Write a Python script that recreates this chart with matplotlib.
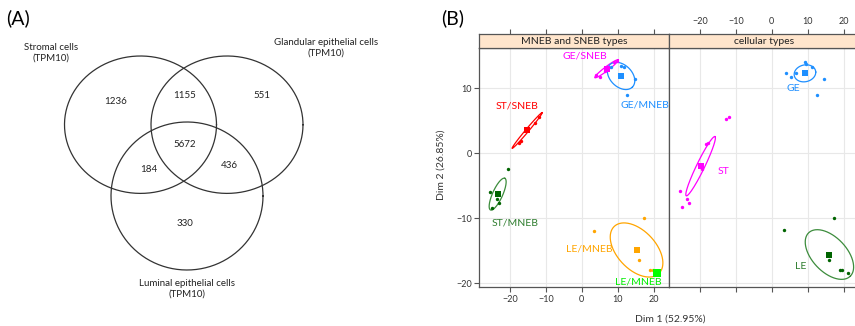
import matplotlib
matplotlib.use("Agg")
import matplotlib.pyplot as plt
import numpy as np

plt.rcParams["font.family"] = ["Lato", "DejaVu Sans"]

W, H = 855, 326

# ── panel A: Venn counts ──────────────────────────────────────────────────────
venn_sets = ["Stromal cells\n(TPM10)", "Glandular epithelial cells\n(TPM10)",
             "Luminal epithelial cells\n(TPM10)"]
venn_regions = ["ST", "ST&GE", "GE", "ALL", "ST&LE", "GE&LE", "LE"]
venn_counts = [1236, 1155, 551, 5672, 184, 436, 330]

# ── panel B: PCA coordinates (Dim 1, Dim 2) ───────────────────────────────────
xlim = (-28.5, 24.3)
ylim = (-20.6, 16.2)
ticks_x = [-20, -10, 0, 10, 20]
ticks_y = [-20, -10, 0, 10]

# left panel: MNEB and SNEB types
ge_sneb_x = [3.8, 5.0, 6.3, 8.8, 9.9]
ge_sneb_y = [12.1, 11.8, 12.7, 14.0, 14.2]
ge_mneb_x = [8.2, 11.0, 11.6, 14.8, 12.6]
ge_mneb_y = [13.3, 13.5, 13.2, 11.4, 9.0]
st_sneb_x = [-17.4, -16.8, -13.1, -12.0]
st_sneb_y = [1.5, 1.9, 4.7, 5.5]
st_mneb_x = [-20.5, -25.4, -23.5, -23.1, -24.9]
st_mneb_y = [-2.5, -5.9, -7.1, -7.6, -8.5]
le_mneb_x = [3.5, 17.4, 16.0, 18.9, 19.7]
le_mneb_y = [-11.95, -10.05, -16.5, -18.0, -17.95]

left_groups = {
    "GE/SNEB": dict(x=ge_sneb_x, y=ge_sneb_y, c=(6.85, 13.0), col="#ff00ff",
                    u=(3.25, 1.37), v=(0.34, -0.25), lab=(0.8, 15.0)),
    "GE/MNEB": dict(x=ge_mneb_x, y=ge_mneb_y, c=(10.9, 11.9), col="#1e8fff",
                    u=(3.14, -1.72), v=(2.16, 1.2), lab=(17.5, 7.5)),
    "ST/SNEB": dict(x=st_sneb_x, y=st_sneb_y, c=(-15.2, 3.5), col="#ff0000",
                    u=(4.17, 2.75), v=(0.32, -0.15), lab=(-18.1, 7.3)),
    "ST/MNEB": dict(x=st_mneb_x, y=st_mneb_y, c=(-23.4, -6.3), col="#006400",
                    ecol="#3c8c3c", tcol="#2e7d2e", u=(1.99, 2.44), v=(1.27, -0.32),
                    lab=(-18.6, -10.8)),
    "LE/MNEB": dict(x=le_mneb_x, y=le_mneb_y, c=(15.2, -14.9), col="#ffa500",
                    u=(6.25, -3.6), v=(3.8, 2.1), lab=(2.0, -14.8)),
}
le_sneb_c = (21.0, -18.5)
le_sneb_lab = (15.7, -19.9)

# right panel: cellular types
ge_x = [4.0, 5.2, 6.6, 9.2, 9.5, 11.2, 14.6, 12.6]
ge_y = [12.3, 11.8, 12.4, 14.1, 13.7, 13.3, 11.4, 9.0]
st_x = [-12.7, -11.9, -18.4, -17.7, -20.2, -19.5, -25.4, -23.5, -22.9, -24.9]
st_y = [5.2, 5.6, 1.4, 1.6, -1.8, -2.4, -5.8, -7.1, -7.6, -8.3]
le_x = [3.3, 17.4, 16.0, 18.8, 19.5, 21.1]
le_y = [-11.9, -10.0, -16.5, -18.0, -18.0, -18.4]

right_groups = {
    "GE": dict(x=ge_x, y=ge_y, c=(9.2, 12.3), col="#1e8fff",
               u=(3.0, 0.2), v=(-0.1, 1.3), lab=(6.1, 9.9)),
    "ST": dict(x=st_x, y=st_y, c=(-19.8, -2.0), col="#ff00ff",
               u=(3.99, 4.56), v=(1.0, -0.27), lab=(-13.3, -2.8)),
    "LE": dict(x=le_x, y=le_y, c=(16.0, -15.6), col="#006400", ecol="#3c8c3c",
               tcol="#2e7d2e", u=(5.8, -3.33), v=(3.4, 1.88), lab=(8.1, -17.4)),
}

fig = plt.figure(figsize=(W / 100, H / 100), dpi=100)


def fx(px):
    return px / W


def fy(py):
    return 1 - py / H


# ── panel A ───────────────────────────────────────────────────────────────────
axA = fig.add_axes([0, 0, 1, 1])
axA.set_xlim(0, W)
axA.set_ylim(H, 0)
axA.axis("off")
t = np.linspace(0, 2 * np.pi, 300)
for cx, cy, rx, ry in [(140.5, 124.7, 76, 68.7), (227, 124.7, 76, 68.7),
                       (187, 196, 76, 74)]:
    axA.plot(cx + rx * np.cos(t), cy + ry * np.sin(t), color="#333333", lw=0.9)
count_pos = [(116, 102), (185, 96), (262, 96), (185, 144.5), (149, 170),
             (229, 166), (184.5, 223)]
for (px, py), n in zip(count_pos, venn_counts):
    axA.text(px, py, str(n), ha="center", va="center", fontsize=7, color="#222222")
for (px, py), s in zip([(51, 53), (326, 47.5), (187, 289)], venn_sets):
    axA.text(px, py, s, ha="center", va="center", fontsize=7, color="#222222",
             linespacing=1.25)
axA.text(6, 18, "(A)", ha="left", va="center", fontsize=14)
axA.text(441, 18, "(B)", ha="left", va="center", fontsize=14)

# ── panel B ───────────────────────────────────────────────────────────────────
pw = 190
tick_kw = dict(direction="out", length=3.5, width=0.8, color="#555555",
               labelsize=6.5, labelcolor="#333333", pad=2)
for i, (title, groups) in enumerate([("MNEB and SNEB types", left_groups),
                                     ("cellular types", right_groups)]):
    x0 = 479.3 + i * pw
    ax = fig.add_axes([fx(x0), fy(287), pw / W, (287 - 48) / H])
    ax.set_xlim(*xlim)
    ax.set_ylim(*ylim)
    for xv in ticks_x:
        ax.axvline(xv, color="#e8e8e8", lw=0.8, zorder=0)
    for yv in ticks_y:
        ax.axhline(yv, color="#e8e8e8", lw=0.8, zorder=0)
    for name, g in groups.items():
        ec = g.get("ecol", g["col"])
        cx, cy = g["c"]
        u, v = g["u"], g["v"]
        ax.plot(cx + u[0] * np.cos(t) + v[0] * np.sin(t),
                cy + u[1] * np.cos(t) + v[1] * np.sin(t), color=ec, lw=0.9)
        ax.scatter(g["x"], g["y"], s=6, color=g["col"], linewidths=0, zorder=3)
        ax.scatter([cx], [cy], s=22, marker="s", color=g["col"], linewidths=0, zorder=4)
        ax.text(*g["lab"], name, color=g.get("tcol", g["col"]),
                fontsize=7.5, ha="center", va="center")
    if i == 0:
        ax.scatter([le_sneb_c[0]], [le_sneb_c[1]], s=26, marker="s", color="#00ff00",
                   linewidths=0, zorder=5)
        ax.text(*le_sneb_lab, "LE/MNEB", color="#00ee00", fontsize=7.5,
                ha="center", va="center", clip_on=False)
    ax.set_xticks(ticks_x)
    ax.set_yticks(ticks_y)
    ax.tick_params(**tick_kw, top=False, bottom=True, left=(i == 0), right=(i == 1),
                   labelbottom=(i == 0), labeltop=False,
                   labelleft=(i == 0), labelright=False)
    for sp in ax.spines.values():
        sp.set_color("#555555")
        sp.set_linewidth(0.9)
    # strip, carrying the top axis
    sax = fig.add_axes([fx(x0), fy(48), pw / W, 14 / H])
    sax.set_xlim(*xlim)
    sax.set_xticks(ticks_x)
    sax.set_yticks([])
    sax.tick_params(**tick_kw, top=True, bottom=False, labelbottom=False,
                    labeltop=(i == 1))
    sax.set_facecolor("#ffe5cc")
    for sp in sax.spines.values():
        sp.set_color("#555555")
        sp.set_linewidth(0.9)
    sax.text(0.5, 0.5, title, transform=sax.transAxes, ha="center", va="center",
             fontsize=7.5, color="#222222")

fig.text(fx(670), fy(319), "Dim 1 (52.95%)", ha="center", va="center",
         fontsize=7.5, color="#333333")
fig.text(fx(441), fy(165), "Dim 2 (26.85%)", ha="center", va="center",
         fontsize=7.5, color="#333333", rotation=90)

fig.savefig("out.png", dpi=100)
